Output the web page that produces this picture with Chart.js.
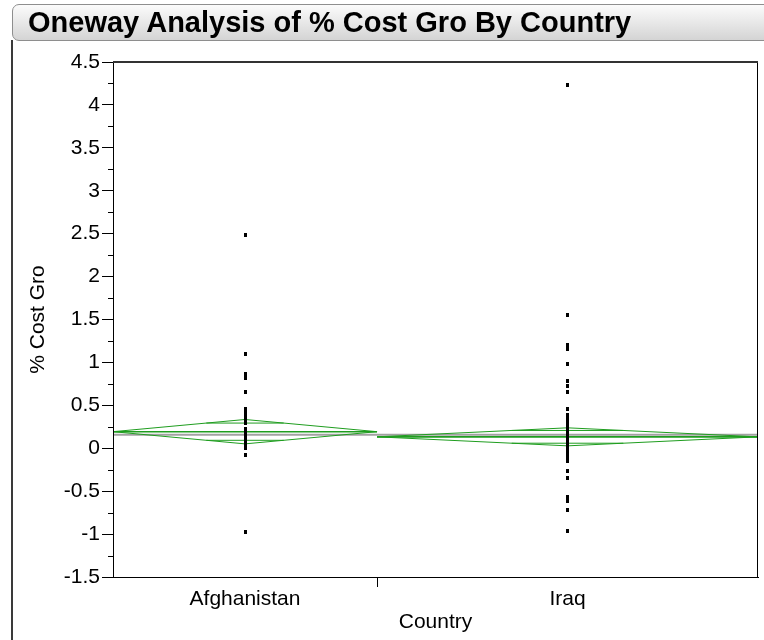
<!DOCTYPE html>
<html>
<head>
<meta charset="utf-8">
<script src="https://cdn.jsdelivr.net/npm/chart.js@4.4.1/dist/chart.umd.min.js"></script>
<style>
  html, body { margin: 0; padding: 0; background: #fff; }
  #wrap { position: relative; width: 764px; height: 640px; overflow: hidden; }
  #c { position: absolute; left: 0; top: 0; }
  #bar {
    position: absolute; left: 12px; top: 4px; width: 780px; height: 37px;
    box-sizing: border-box; border: 1px solid #8e8e8e; border-radius: 7px 0 0 7px;
    background: linear-gradient(#fbfbfb, #e6e6e6 55%, #d4d4d4);
    font: bold 29px "Liberation Sans", Arial, sans-serif; line-height: 35px;
    padding-left: 15px; color: #000; white-space: nowrap;
  }
  #frame { position: absolute; left: 11px; top: 40px; width: 2px; height: 600px; background: #3a3a3a; }
</style>
</head>
<body>
<div id="wrap">
  <canvas id="c" width="764" height="640"></canvas>
  <div id="bar">Oneway Analysis of % Cost Gro By Country</div>
  <div id="frame"></div>
</div>
<script>
// Countries and the number of projects in each (the x axis gives each country
// a slice of the width in proportion to its count).
const countries = ['Afghanistan', 'Iraq'];
const countryN = [70, 101];

// % cost growth of the individual projects
const costGroAfghanistan = [2.49, 1.10, 0.86, 0.82, 0.65, 0.46, 0.42, 0.38, 0.34, 0.30,
  0.23, 0.19, 0.15, 0.11, 0.07, 0.03, 0.00, -0.08, -0.97];
const costGroIraq = [4.23, 1.55, 1.20, 1.16, 0.98, 0.78, 0.72, 0.65, 0.46,
  0.39, 0.35, 0.31, 0.27, 0.23, 0.19, 0.15, 0.11, 0.07, 0.03, -0.01, -0.05,
  -0.10, -0.15, -0.26, -0.35, -0.57, -0.62, -0.72, -0.96];

// Means diamonds: group mean with its 95% confidence limits
const groupMean = [0.193, 0.133];
const ciLower = [0.051, 0.028];
const ciUpper = [0.335, 0.238];
const grandMean = 0.158;

// Y axis range and tick spacing
const yMin = -1.5, yMax = 4.5, yStep = 0.5;

const FONT = '"Liberation Sans", Arial, sans-serif';
const GREEN = '#1f9d1f';

// Slice boundaries and centres on a 0..1 axis
const totalN = countryN.reduce((a, b) => a + b, 0);
const bounds = [0];
countryN.forEach((n, i) => bounds.push(bounds[i] + n / totalN));
const centers = countries.map((_, i) => (bounds[i] + bounds[i + 1]) / 2);
const groupPoints = [costGroAfghanistan, costGroIraq];

// Small upright black marker used for every observation
const marker = document.createElement('canvas');
marker.width = 3; marker.height = 4;
(function () { const m = marker.getContext('2d'); m.fillStyle = '#000'; m.fillRect(0, 0, 3, 4); })();

const lineDs = (data, color, width) => ({
  type: 'scatter', data, showLine: true, borderColor: color, borderWidth: width,
  pointRadius: 0, pointHoverRadius: 0, fill: false, tension: 0
});

const datasets = [];
// observations (first in the list, so they are painted on top)
groupPoints.forEach((vals, i) => {
  datasets.push({
    type: 'scatter',
    data: vals.map(v => ({ x: centers[i], y: v })),
    pointStyle: marker, pointRadius: 2, pointHoverRadius: 2
  });
});
// means diamonds, mean lines and overlap marks
countries.forEach((_, i) => {
  const l = bounds[i], r = bounds[i + 1], c = centers[i];
  const m = groupMean[i];
  datasets.push(lineDs([
    { x: l, y: m }, { x: c, y: ciUpper[i] }, { x: r, y: m }, { x: c, y: ciLower[i] }, { x: l, y: m }
  ], GREEN, 1));
  datasets.push(lineDs([{ x: l, y: m }, { x: r, y: m }], GREEN, 1.6));
  const k = 1 - Math.SQRT1_2;
  const hw = (r - l) / 2 * k;
  const up = m + (ciUpper[i] - m) * Math.SQRT1_2;
  const lo = m - (m - ciLower[i]) * Math.SQRT1_2;
  datasets.push(lineDs([{ x: c - hw, y: up }, { x: c + hw, y: up }], GREEN, 1));
  datasets.push(lineDs([{ x: c - hw, y: lo }, { x: c + hw, y: lo }], GREEN, 1));
});
// grand mean across the whole plot
datasets.push(lineDs([{ x: 0, y: grandMean }, { x: 1, y: grandMean }], '#a2a2a2', 2));

// frame around the plot plus the minor ticks on the y axis
const framePlugin = {
  id: 'frame',
  afterDraw(chart) {
    const { ctx, chartArea: a, scales } = chart;
    ctx.save();
    ctx.strokeStyle = '#000';
    ctx.lineWidth = 1;
    ctx.strokeRect(Math.round(a.left) + 0.5, Math.round(a.top) + 0.5,
      Math.round(a.right - a.left) - 1, Math.round(a.bottom - a.top));
    ctx.lineWidth = 2;
    ctx.strokeStyle = '#333';
    ctx.beginPath();
    ctx.moveTo(a.left, Math.round(a.top));
    ctx.lineTo(a.right, Math.round(a.top));
    ctx.stroke();
    const ys = scales.y;
    ctx.lineWidth = 1;
    ctx.strokeStyle = '#000';
    ctx.beginPath();
    for (let v = yMin + yStep / 2; v < yMax; v += yStep) {
      const py = Math.round(ys.getPixelForValue(v)) + 0.5;
      ctx.moveTo(ys.right - 5, py);
      ctx.lineTo(ys.right, py);
    }
    ctx.stroke();
    ctx.restore();
  }
};

new Chart(document.getElementById('c'), {
  type: 'scatter',
  data: { datasets },
  options: {
    responsive: false,
    animation: false,
    events: [],
    layout: { padding: { left: 12, right: 6, top: 62, bottom: 0 } },
    plugins: { legend: { display: false }, tooltip: { enabled: false } },
    scales: {
      x: {
        type: 'linear', min: 0, max: 1,
        afterBuildTicks: s => {
          s.ticks = [{ value: centers[0] }, { value: bounds[1] }, { value: centers[1] }];
        },
        afterFit: s => { s.height = 63; },
        ticks: {
          autoSkip: false, maxRotation: 0, minRotation: 0, padding: 0,
          color: '#000', font: { family: FONT, size: 21 },
          callback: (v, i) => (i === 0 ? countries[0] : i === 2 ? countries[1] : '')
        },
        grid: {
          drawOnChartArea: false, tickLength: 10, tickWidth: 1,
          tickColor: c => (c.index === 1 ? '#000' : 'rgba(0,0,0,0)')
        },
        border: { color: '#000', width: 1 },
        title: { display: true, text: 'Country', color: '#000',
          font: { family: FONT, size: 21 }, padding: { top: 0, bottom: 5 } }
      },
      y: {
        min: yMin, max: yMax,
        afterFit: s => { s.width = 101; },
        ticks: {
          stepSize: yStep, padding: 2, color: '#000', font: { family: FONT, size: 21 },
          callback: v => String(Math.round(v * 100) / 100)
        },
        grid: { drawOnChartArea: false, tickLength: 11, tickColor: '#000', tickWidth: 1 },
        border: { color: '#000', width: 1 },
        title: { display: true, text: '% Cost Gro', color: '#000',
          font: { family: FONT, size: 21 }, padding: { top: 14, bottom: 0 } }
      }
    }
  },
  plugins: [framePlugin]
});
</script>
</body>
</html>
